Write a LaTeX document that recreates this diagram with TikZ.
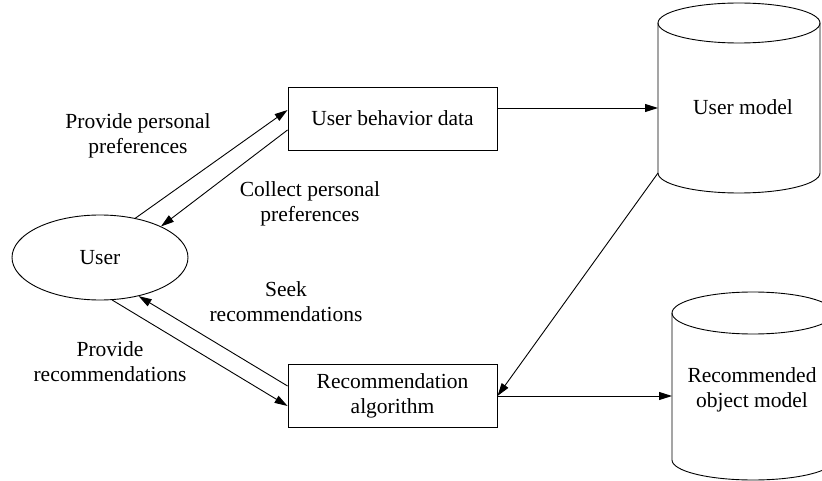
\documentclass[tikz,border=0pt]{standalone}
\usepackage{fontspec}
\setmainfont{Liberation Serif}
\usetikzlibrary{arrows.meta,shapes.geometric}
\begin{document}
\begin{tikzpicture}[x=1pt,y=-1pt,line width=0.9pt,
  arr/.style={-{Triangle[length=13pt,width=8pt]}},
  txt/.style={font=\fontsize{21.5}{25}\selectfont},
  lbl/.style={txt,align=center,inner sep=0pt},
  box/.style={draw,rectangle,minimum width=209pt,minimum height=63pt,inner sep=0pt,txt,align=center}]
\useasboundingbox (0,0) rectangle (822,481);
\clip (0,0) rectangle (822,481);

% actor
\node[draw,ellipse,minimum width=176pt,minimum height=85pt,inner sep=0pt,txt] (user) at (100,257.5) {User};

% processing boxes
\node[box] (ubd) at (392.5,118.5) {User behavior data};
\node[box] (ra) at (392.5,396) {Recommendation\\algorithm};

% data stores (cylinders)
\draw (739,23) ellipse [x radius=81pt,y radius=20pt];
\draw (658,23) -- (658,173) arc[start angle=180,end angle=360,x radius=81pt,y radius=20pt] -- (820,23);
\node[lbl] (um) at (743,107) {User model};
\coordinate (umL) at (658,108);
\coordinate (umBL) at (658,173);

\draw (753,313) ellipse [x radius=81pt,y radius=21pt];
\draw (672,313) -- (672,460) arc[start angle=180,end angle=360,x radius=81pt,y radius=20pt] -- (834,313);
\node[lbl] (rom) at (752,390) {Recommended\\object model};
\coordinate (romL) at (672,396);

% flows
\draw[arr] (user.48) -- ([yshift=8.5pt]ubd.west);
\draw[arr] ([yshift=-11.5pt]ubd.west) -- (user.27);
\draw[arr] ([yshift=10pt]ra.west) -- (user.-45);
\draw[arr] (user.-74) -- ([yshift=-10pt]ra.west);
\draw[arr] (ubd.east |- umL) -- (umL);
\draw[arr] (umBL) -- (ra.east);
\draw[arr] (ra.east) -- (romL);

% flow labels
\node[lbl] (l1) at (138,136) {Provide personal\\preferences};
\node[lbl] (l2) at (310,204) {Collect personal\\preferences};
\node[lbl] (l3) at (286,302) {Seek\\recommendations};
\node[lbl] (l4) at (110,362) {Provide\\recommendations};
\end{tikzpicture}
\end{document}
